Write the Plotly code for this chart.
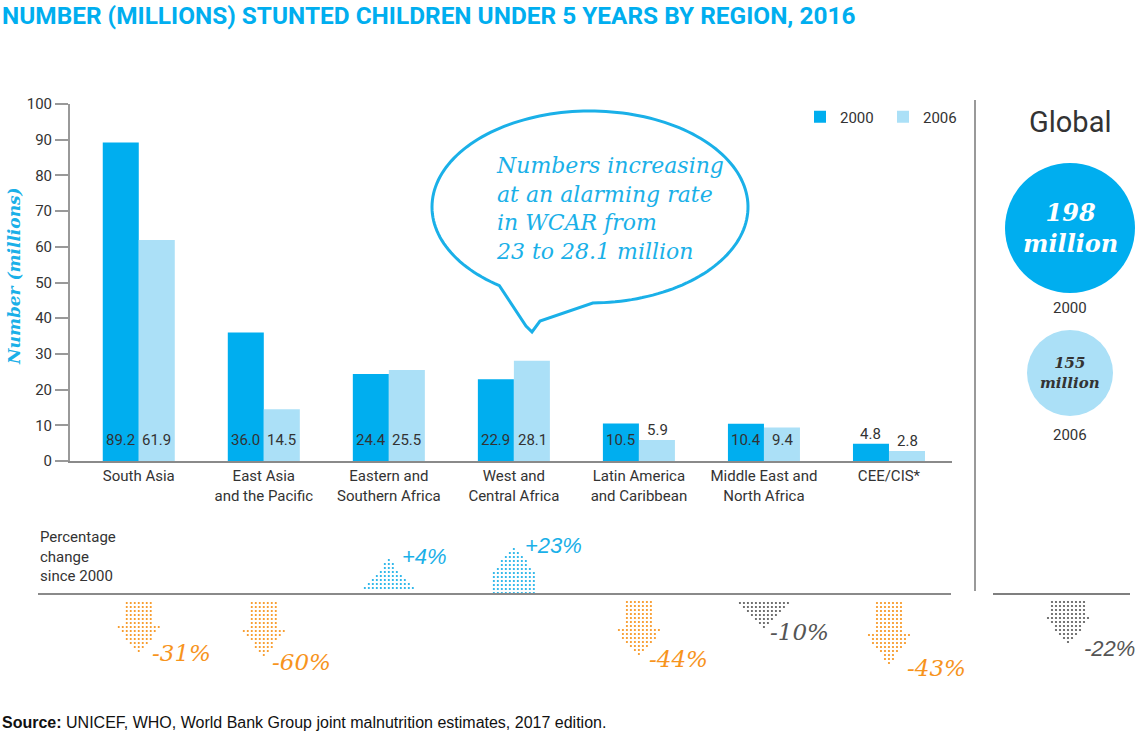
import numpy as np
import plotly.graph_objects as go

# ---------------- data ----------------
categories = ["South Asia", "East Asia<br>and the Pacific", "Eastern and<br>Southern Africa",
              "West and<br>Central Africa", "Latin America<br>and Caribbean",
              "Middle East and<br>North Africa", "CEE/CIS*"]
values_2000 = [89.2, 36.0, 24.4, 22.9, 10.5, 10.4, 4.8]
values_2006 = [61.9, 14.5, 25.5, 28.1, 5.9, 9.4, 2.8]
pct_change = [-31, -60, 4, 23, -44, -10, -43]
global_years = ["2000", "2006"]
global_values = [198, 155]
global_pct = -22
y_ticks = [0, 10, 20, 30, 40, 50, 60, 70, 80, 90, 100]

# ---------------- style / layout ----------------
W, H = 1140, 737
X0, X1 = 70, 951.5          # plot area in pixels
Y0, Y1 = 104, 461
XR = [-0.55, 6.5]
YR = [0, 100]
PXU = (X1 - X0) / (XR[1] - XR[0])

C2000 = "#00aeef"
C2006 = "#abe0f7"
CYAN = "#1ab0e8"
ORANGE = "#f7941d"
GREY = "#555555"
TXT = "#333333"
NARROW = "Liberation Sans Narrow, Arial Narrow, Roboto, sans-serif"
SERIF = "DejaVu Serif, Georgia, serif"
SANS = "Liberation Sans, Arial, sans-serif"


def fx(px):
    return px / W


def fy(py):
    return 1 - py / H


def ann(x, y, text, font, **kw):
    d = dict(x=fx(x), y=fy(y), xref="paper", yref="paper", text=text, showarrow=False,
             xanchor="center", yanchor="middle", font=font)
    d.update(kw)
    fig.add_annotation(**d)


fig = go.Figure()
fig.add_trace(go.Bar(x=list(range(len(categories))), y=values_2000, name="2000",
                     marker=dict(color=C2000, line=dict(width=0)), hoverinfo="y"))
fig.add_trace(go.Bar(x=list(range(len(categories))), y=values_2006, name="2006",
                     marker=dict(color=C2006, line=dict(width=0)), hoverinfo="y"))

# value labels
for i, (a, b) in enumerate(zip(values_2000, values_2006)):
    for v, off in ((a, -0.145), (b, 0.145)):
        fig.add_annotation(x=i + off, y=5.8 if v >= 8 else v + 2.8, xref="x", yref="y",
                           text=f"{v:.1f}", showarrow=False, xanchor="center", yanchor="middle",
                           font=dict(family=NARROW, size=15, color=TXT))


# ---------------- dotted arrows (decorative, on a full-page pixel axis) ----------------
def arrow_dots(cx_px, top, bottom, head_at, shaft_hw, head_hw, up, step=4.0):
    xs, ys = [], []
    y = top
    while y <= bottom + 0.01:
        if up:
            if y <= head_at:
                hw = head_hw * (y - top) / max(head_at - top, 1)
            else:
                hw = shaft_hw
        else:
            if y <= head_at:
                hw = shaft_hw
            else:
                hw = head_hw * (bottom - y) / max(bottom - head_at, 1)
        k = int(np.floor(hw / step + 0.3))
        for j in range(-k, k + 1):
            xs.append(cx_px + j * step)
            ys.append(y)
        y += step
    return xs, ys


# geometry per arrow: (top, bottom, head_at, shaft_hw, head_hw, label_dx, label_py)
arrow_geom = {
    -31: (603, 652, 625, 14, 23, 43, 653),
    -60: (603, 656, 627, 14, 23, 38, 662),
    4: (560, 588, 588, 0, 23, 36, 556),
    23: (549, 593, 575, 22, 24, 40, 545),
    -44: (602, 655, 629, 14, 23, 40, 659),
    -10: (603, 628, 603, 24, 24, 36, 632),
    -43: (603, 664, 633, 14, 23, 48, 668),
}


def arrow_color(p):
    if p > 0:
        return CYAN
    if p <= -20:
        return ORANGE
    return GREY


for i, p in enumerate(pct_change):
    top, bot, hd, shw, hhw, ldx, lpy = arrow_geom[p]
    cx = X0 + (i - XR[0]) * PXU
    xs, ys = arrow_dots(cx, top, bot, hd, shw, hhw, up=p > 0)
    col = arrow_color(p)
    fig.add_trace(go.Scatter(x=xs, y=ys, xaxis="x2", yaxis="y2", mode="markers",
                             marker=dict(color=col, size=2.2, line=dict(width=0)),
                             showlegend=False, hoverinfo="skip"))
    serif = p < 0
    ann(cx + ldx, lpy, f"{'+' if p > 0 else ''}{p}%",
        dict(family=SERIF if serif else SANS, size=23 if serif else 22, color=col, style="italic"))

# global arrow
gx = 1068
xs, ys = arrow_dots(gx, 602, 642, 617, 15, 23, up=False)
fig.add_trace(go.Scatter(x=xs, y=ys, xaxis="x2", yaxis="y2", mode="markers",
                         marker=dict(color=GREY, size=2.2, line=dict(width=0)),
                         showlegend=False, hoverinfo="skip"))
ann(1109, 648, f"{global_pct}%", dict(family=SANS, size=22, color=GREY, style="italic"))

# ---------------- speech bubble ----------------
ecx, ecy, erx, ery = 590, 207, 158, 96
t = np.radians(np.linspace(125, 449, 160))
bx = list(ecx + erx * np.cos(t))
by = list(ecy + ery * np.sin(t))
bx += [540, 532, 526]
by += [321, 332, 326]
path = "M " + " L ".join(f"{fx(a):.5f},{fy(b):.5f}" for a, b in zip(bx, by)) + " Z"
fig.add_shape(type="path", path=path, xref="paper", yref="paper",
              line=dict(color=CYAN, width=3), fillcolor="rgba(0,0,0,0)")
ann(494, 208, "Numbers increasing<br>at an alarming rate<br>in WCAR from<br>23 to 28.1 million",
    dict(family=SERIF, size=22, color=CYAN, style="italic"), align="left", xanchor="left")

# ---------------- global panel ----------------
fig.add_shape(type="line", x0=fx(975), x1=fx(975), y0=fy(100), y1=fy(591), xref="paper", yref="paper",
              line=dict(color="#999999", width=2))
ann(1070, 122, "Global", dict(family=NARROW, size=29, color=TXT))
circ = [(1070, 228, 65, C2000, "white", 24, 308), (1070, 373, 43, C2006, TXT, 15, 435)]
for (ccx, ccy, r, fc, tc, fs, ly), yr, val in zip(circ, global_years, global_values):
    fig.add_shape(type="circle", x0=fx(ccx - r), x1=fx(ccx + r), y0=fy(ccy + r), y1=fy(ccy - r),
                  xref="paper", yref="paper", fillcolor=fc, line=dict(width=0), layer="below")
    ann(ccx, ccy, f"{val}<br>million",
        dict(family=SERIF, size=fs, color=tc, style="italic", weight="bold"))
    ann(ccx, ly, yr, dict(family=NARROW, size=15, color=TXT))

# horizontal rules
fig.add_shape(type="line", x0=fx(38), x1=fx(951), y0=fy(594), y1=fy(594), xref="paper", yref="paper",
              line=dict(color="#8a8a8a", width=2))
fig.add_shape(type="line", x0=fx(993), x1=fx(1130), y0=fy(594), y1=fy(594), xref="paper", yref="paper",
              line=dict(color="#555555", width=1.5))

ann(38, 556, "Percentage<br>change<br>since 2000", dict(family=NARROW, size=15, color=TXT),
    align="left", xanchor="left")

# title, axis title, source
ann(0, 15, "<b>NUMBER (MILLIONS) STUNTED CHILDREN UNDER 5 YEARS BY REGION, 2016</b>",
    dict(family=NARROW, size=24.4, color=C2000), xanchor="left")
ann(14, 276, "Number (millions)",
    dict(family=SERIF, size=17, color=CYAN, style="italic", weight="bold"), textangle=-90)
ann(0, 722, "<b>Source:</b> UNICEF, WHO, World Bank Group joint malnutrition estimates, 2017 edition.",
    dict(family=SANS, size=16, color="#111111"), xanchor="left")

fig.update_layout(
    template="none",
    width=W, height=H,
    margin=dict(l=0, r=0, t=0, b=0),
    paper_bgcolor="white", plot_bgcolor="rgba(0,0,0,0)",
    barmode="group", bargap=0.424, bargroupgap=0,
    showlegend=True,
    legend=dict(orientation="h", x=fx(800), y=fy(117), xanchor="left", yanchor="middle",
                font=dict(family=NARROW, size=15, color=TXT), bgcolor="rgba(0,0,0,0)",
                itemwidth=30, entrywidth=38),
    xaxis=dict(domain=[fx(X0), fx(X1)], range=XR, tickvals=list(range(len(categories))),
               ticktext=categories, showgrid=False, zeroline=False, showline=True,
               linecolor="#8a8a8a", linewidth=2, ticks="", automargin=False,
               tickfont=dict(family=NARROW, size=15, color=TXT)),
    yaxis=dict(domain=[fy(Y1), fy(Y0)], range=YR, tickvals=y_ticks, showgrid=False,
               zeroline=False, showline=True, linecolor="#999999", linewidth=2,
               ticks="outside", ticklen=13, tickcolor="#999999", tickwidth=1.5,
               automargin=False, tickfont=dict(family=NARROW, size=15, color=TXT)),
    xaxis2=dict(domain=[0, 1], range=[0, W], visible=False, anchor="y2", fixedrange=True),
    yaxis2=dict(domain=[0, 1], range=[H, 0], visible=False, anchor="x2", fixedrange=True),
)

fig.write_html("out.html")
